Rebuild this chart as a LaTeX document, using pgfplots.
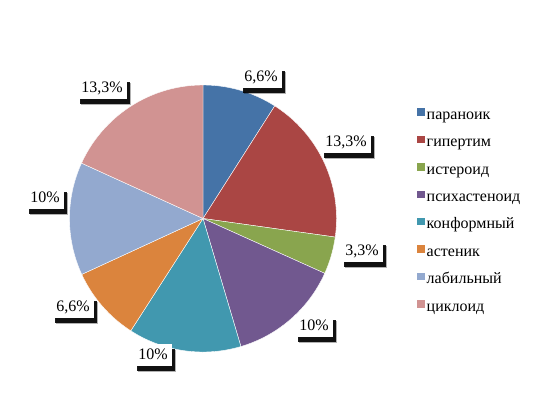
\documentclass[border=0pt]{standalone}
\usepackage{fontspec}
\setmainfont{Liberation Serif}
\usepackage{pgfplots}
\pgfplotsset{compat=1.18}
\usetikzlibrary{shadows}
\definecolor{cA}{HTML}{4573A7}
\definecolor{cB}{HTML}{AA4644}
\definecolor{cC}{HTML}{89A54E}
\definecolor{cD}{HTML}{71588F}
\definecolor{cE}{HTML}{4198AF}
\definecolor{cF}{HTML}{DB843D}
\definecolor{cG}{HTML}{93A9CF}
\definecolor{cH}{HTML}{D19392}
\def\total{73.1}
\def\cum{0}
\def\cx{203}
\def\cy{186.5}
\def\rr{133.5}
\newcommand{\slice}[2]{%
  \pgfmathsetmacro\aS{90-(\cum/\total)*360}%
  \pgfmathsetmacro\cumnew{\cum+#1}%
  \pgfmathsetmacro\aE{90-(\cumnew/\total)*360}%
  \xdef\cum{\cumnew}%
  \edef\tmp{\noexpand\addplot[fill=#2, draw=white, line width=0.4bp, domain=\aS:\aE, samples=90, variable=\noexpand\t] ({\cx+\rr*cos(\noexpand\t)},{\cy+\rr*sin(\noexpand\t)}) -- (\cx,\cy) -- cycle;}%
  \tmp
}
\tikzset{lbl/.style={fill=white, inner xsep=4bp, inner ysep=4.5bp, text height=11bp, text depth=2bp,
  font=\fontsize{16bp}{18bp}\selectfont,
  drop shadow={shadow xshift=4bp, shadow yshift=-6bp, fill=black, opacity=0.3},
  drop shadow={shadow xshift=3bp, shadow yshift=-4.5bp, fill=black, opacity=0.9}}}
\begin{document}
\begin{tikzpicture}
\begin{axis}[x=1bp, y=1bp, xmin=0, xmax=558, ymin=0, ymax=405, hide axis, clip=false,
  legend cell align=left,
  legend style={at={(0.742,0.738)}, anchor=north west, draw=none, fill=none,
    font=\fontsize{16bp}{18bp}\selectfont, row sep=13.4bp,
    nodes={inner xsep=1.5bp, inner ysep=0bp, text height=11bp, text depth=3bp}},
  legend image code/.code={\path[#1, draw=none] (0bp,-0.5bp) rectangle (8bp,7bp);},
]
\path (0,0) rectangle (558,405);
\slice{6.6}{cA}
\addlegendentry{параноик}
\slice{13.3}{cB}
\addlegendentry{гипертим}
\slice{3.3}{cC}
\addlegendentry{истероид}
\slice{10}{cD}
\addlegendentry{психастеноид}
\slice{10}{cE}
\addlegendentry{конформный}
\slice{6.6}{cF}
\addlegendentry{астеник}
\slice{10}{cG}
\addlegendentry{лабильный}
\slice{13.3}{cH}
\addlegendentry{циклоид}
\node[lbl] at (261,328) {6,6\%};
\node[lbl] at (346,263) {13,3\%};
\node[lbl] at (362,154) {3,3\%};
\node[lbl] at (314,79) {10\%};
\node[lbl] at (153,50) {10\%};
\node[lbl] at (73,98) {6,6\%};
\node[lbl] at (45,207) {10\%};
\node[lbl] at (102,317) {13,3\%};
\end{axis}
\end{tikzpicture}
\end{document}
